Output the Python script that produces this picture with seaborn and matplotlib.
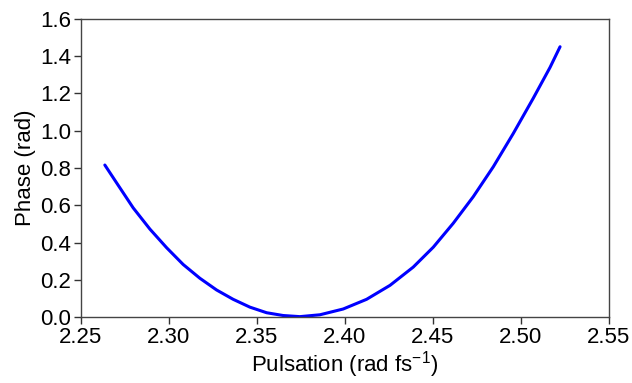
import matplotlib
matplotlib.use("Agg")
import matplotlib.pyplot as plt
import seaborn as sns
import pandas as pd
from matplotlib.ticker import FormatStrFormatter

pulsation = [2.2636, 2.2703, 2.2797, 2.2892, 2.2987, 2.3081, 2.3176, 2.3271,
             2.3365, 2.3460, 2.3555, 2.3649, 2.3744, 2.3858, 2.3990, 2.4123,
             2.4256, 2.4388, 2.4502, 2.4615, 2.4729, 2.4843, 2.4956, 2.5070,
             2.5165, 2.5222]
phase = [0.816, 0.720, 0.586, 0.472, 0.372, 0.282, 0.208, 0.145,
         0.095, 0.053, 0.023, 0.008, 0.002, 0.012, 0.043, 0.095,
         0.170, 0.268, 0.375, 0.503, 0.646, 0.807, 0.985, 1.175,
         1.340, 1.451]
x_ticks = [2.25, 2.30, 2.35, 2.40, 2.45, 2.50, 2.55]
y_ticks = [0.0, 0.2, 0.4, 0.6, 0.8, 1.0, 1.2, 1.4, 1.6]

sns.set_style("ticks")
plt.rcParams["font.family"] = ["Liberation Sans", "DejaVu Sans"]
plt.rcParams["mathtext.fontset"] = "custom"
plt.rcParams["mathtext.rm"] = "Liberation Sans"
plt.rcParams["mathtext.it"] = "Liberation Sans:italic"
plt.rcParams["mathtext.bf"] = "Liberation Sans:bold"

df = pd.DataFrame({"w": pulsation, "p": phase})

fig = plt.figure(figsize=(6.32, 3.83), dpi=100)
ax = fig.add_axes([0.128, 0.1723, 0.8356, 0.7781])
sns.lineplot(data=df, x="w", y="p", ax=ax, color="#0000ff", linewidth=2.2,
             sort=False, estimator=None)
for ln in ax.lines:
    ln.set_solid_joinstyle("round")

ax.set_xlim(2.25, 2.55)
ax.set_ylim(0.0, 1.6)
ax.set_xticks(x_ticks)
ax.set_yticks(y_ticks)
ax.xaxis.set_major_formatter(FormatStrFormatter("%.2f"))
ax.yaxis.set_major_formatter(FormatStrFormatter("%.1f"))
ax.tick_params(axis="both", labelsize=16, length=5, width=1, color="#333333",
               labelcolor="black", direction="out", top=False, right=False, pad=2)
for s in ax.spines.values():
    s.set_visible(True)
    s.set_color("#444444")
    s.set_linewidth(1.0)
ax.set_xlabel("Pulsation (rad fs$^{-1}$)", fontsize=16, labelpad=1, color="black")
ax.set_ylabel("Phase (rad)", fontsize=16, labelpad=3, color="black")

fig.savefig("out.png", dpi=100)
